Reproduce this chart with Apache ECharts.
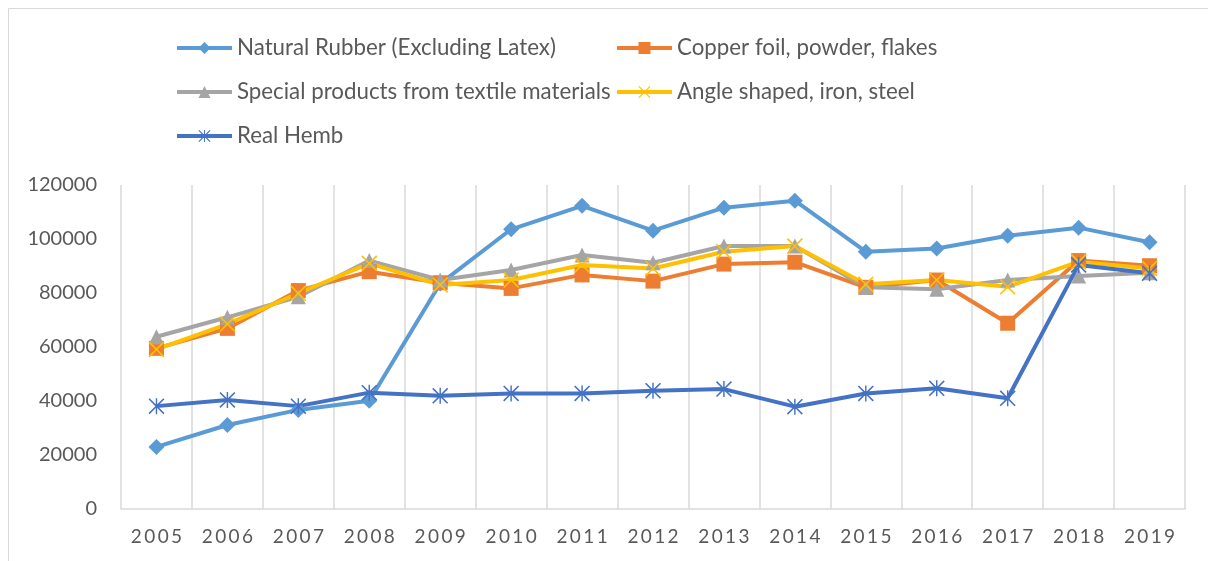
<!DOCTYPE html>
<html>
<head>
<meta charset="utf-8">
<script src="https://cdn.jsdelivr.net/npm/echarts@6/dist/echarts.min.js"></script>
<style>html,body{margin:0;padding:0;background:#fff}#c{width:1208px;height:561px}</style>
</head>
<body>
<div id="c"></div>
<script>
const years = ['2005','2006','2007','2008','2009','2010','2011','2012','2013','2014','2015','2016','2017','2018','2019'];
const yTicks = [0, 20000, 40000, 60000, 80000, 100000, 120000];
const naturalRubber = [23000, 31100, 36700, 40100, 83500, 103600, 112300, 103100, 111600, 114200, 95300, 96500, 101200, 104200, 98800];
const copperFoil = [59500, 66900, 80900, 87900, 83800, 81700, 86700, 84400, 90700, 91400, 82100, 84800, 68800, 92000, 90100];
const specialTextile = [63800, 71000, 78600, 92000, 84800, 88500, 94100, 91200, 97400, 97400, 82100, 81400, 84800, 86300, 87500];
const angleSteel = [59100, 68500, 79900, 91000, 83000, 84800, 90400, 89100, 95300, 97400, 83200, 84800, 82300, 91600, 89100];
const realHemb = [38100, 40400, 38100, 43100, 41900, 42800, 42800, 43800, 44400, 37900, 42800, 44700, 41000, 90400, 87300];
const seriesNames = ['Natural Rubber (Excluding Latex)', 'Copper foil, powder, flakes', 'Special products from textile materials', 'Angle shaped, iron, steel', 'Real Hemb'];

const FONT = 'Lato';
const xMark = 'path://M0,1.4L1.4,0L10,8.6L18.6,0L20,1.4L11.4,10L20,18.6L18.6,20L10,11.4L1.4,20L0,18.6L8.6,10Z';
const starMark = 'path://M0,1.4L1.4,0L10,8.6L18.6,0L20,1.4L11.4,10L20,18.6L18.6,20L10,11.4L1.4,20L0,18.6L8.6,10Z M9.1,0H10.9V20H9.1Z';

function mk(name, data, color, symbol, size) {
  return {
    name, type: 'line', data, symbol, symbolSize: size, showSymbol: true,
    lineStyle: { color, width: 4 },
    itemStyle: { color, borderWidth: 0 },
    emphasis: { disabled: true },
    animation: false
  };
}

const legendText = { color: '#595959', fontFamily: FONT, fontSize: 22.3 };
const legendCommon = { orient: 'vertical', top: 32, itemWidth: 55, itemHeight: 15, itemGap: 22,
  textStyle: legendText, selectedMode: false, lineStyle: { width: 4 } };
const chart = echarts.init(document.getElementById('c'), null, { renderer: 'canvas' });
chart.setOption({
  backgroundColor: '#fff',
  animation: false,
  graphic: [{
    type: 'rect', silent: true,
    shape: { x: 8.5, y: 8.5, width: 1400, height: 1000 },
    style: { fill: 'none', stroke: '#D9D9D9', lineWidth: 1 }
  }],
  legend: [
    Object.assign({ left: 170, data: [seriesNames[0], seriesNames[2], seriesNames[4]] }, legendCommon),
    Object.assign({ left: 610, data: [seriesNames[1], seriesNames[3]] }, legendCommon)
  ],
  grid: { left: 121, right: 23, top: 185, bottom: 52 },
  xAxis: {
    type: 'category', data: years, boundaryGap: true,
    axisLine: { lineStyle: { color: '#D9D9D9', width: 1.5 } },
    axisTick: { show: false, interval: 0 },
    splitLine: { show: true, interval: 0, lineStyle: { color: '#D9D9D9', width: 1.5 } },
    axisLabel: { color: '#595959', fontFamily: FONT, fontSize: 19, margin: 18, interval: 0, hideOverlap: false,
      formatter: v => v.split('').join('\u2009') }
  },
  yAxis: {
    type: 'value', min: yTicks[0], max: yTicks[yTicks.length - 1], interval: yTicks[1] - yTicks[0],
    axisLine: { show: false }, axisTick: { show: false }, splitLine: { show: false },
    axisLabel: { color: '#595959', fontFamily: FONT, fontSize: 20, margin: 24, formatter: v => String(v) }
  },
  series: [
    mk(seriesNames[0], naturalRubber, '#5B9BD5', 'diamond', 16),
    mk(seriesNames[1], copperFoil, '#ED7D31', 'rect', 15),
    mk(seriesNames[2], specialTextile, '#A5A5A5', 'triangle', 15),
    mk(seriesNames[3], angleSteel, '#FFC000', xMark, 16),
    mk(seriesNames[4], realHemb, '#4472C4', starMark, 16)
  ]
});
</script>
</body>
</html>
